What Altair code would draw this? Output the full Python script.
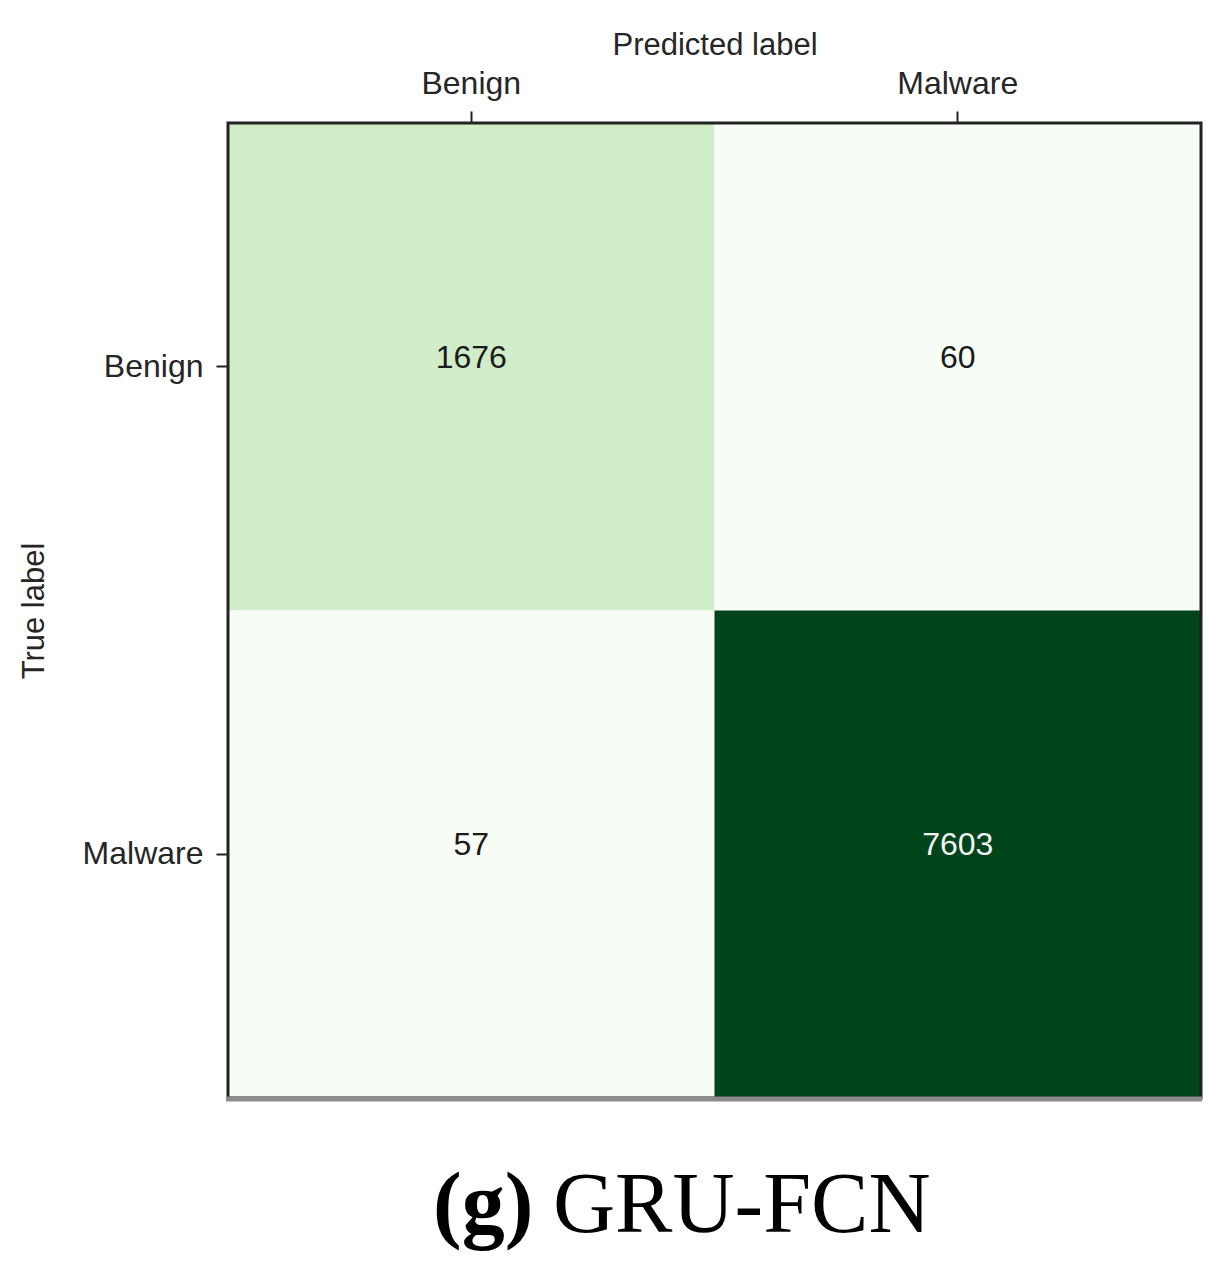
import altair as alt
import pandas as pd

# Data
true_labels = ["Benign", "Benign", "Malware", "Malware"]
pred_labels = ["Benign", "Malware", "Benign", "Malware"]
counts = [1676, 60, 57, 7603]
categories = ["Benign", "Malware"]
caption_tag = "(g)"
caption_name = "GRU-FCN"

df = pd.DataFrame({"true": true_labels, "pred": pred_labels, "count": counts})

greens = ["#f7fcf5", "#e5f5e0", "#c7e9c0", "#a1d99b", "#74c476",
          "#41ab5d", "#238b45", "#006d2c", "#00441b"]
lo, hi = min(counts), max(counts)
stops = [lo + i * (hi - lo) / 8 for i in range(9)]
thresh = hi / 2

W, H = 973, 975
FONT = "Liberation Sans"

x_enc = alt.X("pred:N", sort=categories,
              scale=alt.Scale(paddingInner=0, paddingOuter=0),
              axis=alt.Axis(orient="top", title="Predicted label", labelAngle=0,
                            domain=False, ticks=True, tickSize=12, tickWidth=2,
                            tickColor="#222222", labelFont=FONT, labelFontSize=32,
                            labelColor="#262626", labelBaseline="alphabetic",
                            labelPadding=18, titleFont=FONT, titleFontSize=31,
                            titleFontWeight="normal", titleColor="#262626",
                            titleY=-69, titleBaseline="alphabetic"))
y_enc = alt.Y("true:N", sort=categories,
              scale=alt.Scale(paddingInner=0, paddingOuter=0),
              axis=alt.Axis(orient="left", title="True label", domain=False,
                            tickSize=12, tickWidth=2, tickColor="#222222",
                            labelFont=FONT, labelFontSize=32, labelColor="#262626",
                            labelPadding=13, labelBaseline="middle",
                            titleFont=FONT, titleFontSize=31, titleFontWeight="normal",
                            titleColor="#262626", titleX=-185,
                            titleBaseline="alphabetic"))

base = alt.Chart(df)

cells = base.mark_rect().encode(
    x=x_enc, y=y_enc,
    color=alt.Color("count:Q", legend=None,
                    scale=alt.Scale(domain=stops, range=greens, interpolate="rgb")),
)

labels = base.mark_text(font=FONT, fontSize=32, baseline="alphabetic", dy=1).encode(
    x=alt.X("pred:N", sort=categories),
    y=alt.Y("true:N", sort=categories),
    text=alt.Text("count:Q", format="d"),
    color=alt.condition(alt.datum["count"] > thresh, alt.value("#f2f2f2"), alt.value("#1a1a1a")),
)

one = pd.DataFrame({"a": [0]})
frame = alt.Chart(one).mark_rect(filled=False, stroke="#222222", strokeWidth=3).encode(
    x=alt.value(0), x2=alt.value(W), y=alt.value(0), y2=alt.value(H)
)
bottom_rule = alt.Chart(one).mark_rule(color="#8c8c8c", strokeWidth=5).encode(
    x=alt.value(-2), x2=alt.value(W + 1), y=alt.value(H + 1)
)

cap_tag = alt.Chart(one).mark_text(font="Liberation Serif", fontSize=86, fontWeight="bold",
                                   align="left", baseline="alphabetic", color="black").encode(
    x=alt.value(205), y=alt.value(1109), text=alt.value(caption_tag)
)
cap_name = alt.Chart(one).mark_text(font="Liberation Serif", fontSize=86,
                                    align="left", baseline="alphabetic", color="black").encode(
    x=alt.value(325), y=alt.value(1109), text=alt.value(caption_name)
)

chart = alt.layer(cells, labels, frame, bottom_rule, cap_tag, cap_name).properties(
    width=W, height=H,
    autosize=alt.AutoSizeParams(type="none"),
    padding={"left": 220, "top": 115, "right": 16, "bottom": 160},
).configure_view(stroke=None).configure(background="white")

chart.save("out.html", embed_options={"renderer": "svg", "actions": False})
